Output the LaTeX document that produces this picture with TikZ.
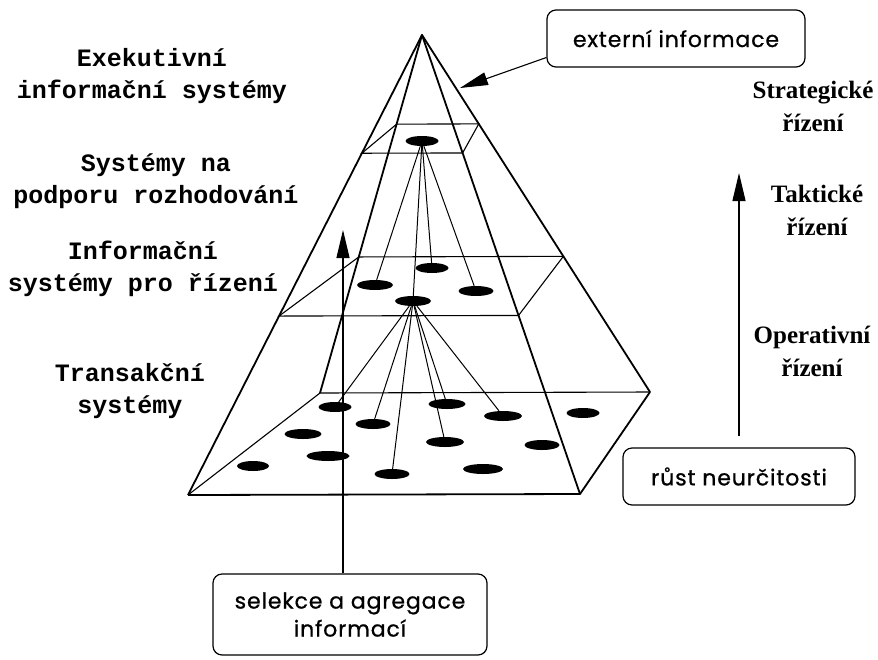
\documentclass[tikz,border=0pt]{standalone}
\usepackage{fontspec}
\setmainfont{Liberation Serif}
\newfontfamily\typefont{Liberation Mono}
\newfontfamily\boxfont[FakeBold=0.8,LetterSpace=4]{Poppins}
\usetikzlibrary{arrows.meta,shapes.geometric,calc}

\begin{document}
\begin{tikzpicture}[
  x=1pt, y=-1pt,
  >={Triangle[length=28pt,width=13pt]},
  edge/.style={line width=1.8pt, line join=round},
  cut/.style={line width=1.1pt},
  fan/.style={line width=1pt},
  flow/.style={->, line width=1.1pt},
  blob/.style={ellipse, fill=black, inner sep=0pt,
    minimum width=36pt, minimum height=10pt},
  levellabel/.style={font=\typefont\bfseries\fontsize{25}{32}\selectfont,
    align=center},
  mgmtlabel/.style={font=\bfseries\fontsize{25}{33}\selectfont,
    align=center},
  infobox/.style={draw, line width=1.2pt, rounded corners=9pt,
    font=\boxfont\fontsize{22}{28}\selectfont, align=center, inner sep=0pt},
]
\useasboundingbox (0,0) rectangle (878,659);

% pyramid
\coordinate (apex) at (422,35);
\coordinate (fl) at (188,495);
\coordinate (fr) at (580,494);
\coordinate (bl) at (320,393);
\coordinate (br) at (650,392);
\draw[edge] (fl) -- (apex) -- (fr);
\draw[edge] (bl) -- (apex) -- (br);
\draw[edge] (fl) -- (fr) -- (br);
\draw[cut] (fl) -- (bl) -- (br);

% horizontal sections
\foreach \tf/\tb in {0.257/0.249, 0.611/0.620}
  \draw[cut] ($(apex)!\tf!(fl)$) -- ($(apex)!\tf!(fr)$)
    -- ($(apex)!\tb!(br)$) -- ($(apex)!\tb!(bl)$) -- cycle;

% data blobs
\foreach \x/\y/\w/\n in {422/141/33/e0,
    432/268/33/m1, 375/285/36/m2, 476/291/35/m3, 413/301/36/m4,
    335/407/33/b1, 373/424/35/b2, 303/434/37/b3, 328/456/43/b4,
    253/466/32/b5, 392/474/35/b6, 447/404/37/b7, 503/416/38/b8,
    445/442/38/b9, 483/469/40/b10, 542/445/35/b11, 583/413/33/b12}
  \node[blob, minimum width=\w pt] (\n) at (\x,\y) {};

\foreach \n in {m1,m2,m3,m4} \draw[fan] (e0) -- (\n);
\foreach \n in {b1,b2,b6,b7,b8,b9} \draw[fan] (m4) -- (\n);

% boxes and arrows
\node[infobox, minimum width=258pt, minimum height=57pt] (ext) at (676,38.5)
  {externí informace};
\node[infobox, minimum width=232pt, minimum height=57pt] (rust) at (739,476.5)
  {růst neurčitosti};
\node[infobox, minimum width=274pt, minimum height=81pt] (sel) at (350,614.5)
  {selekce a agregace\\informací};

\coordinate (hit) at (460,88);
\coordinate (aggtop) at (343,230);
\coordinate (unctop) at (739,173);
\draw[flow] ([yshift=-19pt]ext.west) -- (hit);
\draw[flow] (sel.north -| aggtop) -- (aggtop);
\draw[flow, shorten <=11pt] (rust.north) -- (unctop);

% labels
\node[levellabel] (eis) at (152,76) {Exekutivní\\informační systémy};
\node[levellabel] (dss) at (156,181) {Systémy na\\podporu rozhodování};
\node[levellabel] (mis) at (143,269) {Informační\\systémy pro řízení};
\node[levellabel] (tps) at (130,391) {Transakční\\systémy};
\node[mgmtlabel] (strat) at (813,106) {Strategické\\řízení};
\node[mgmtlabel] (takt) at (817,210) {Taktické\\řízení};
\node[mgmtlabel] (oper) at (812,351) {Operativní\\řízení};
\end{tikzpicture}
\end{document}
